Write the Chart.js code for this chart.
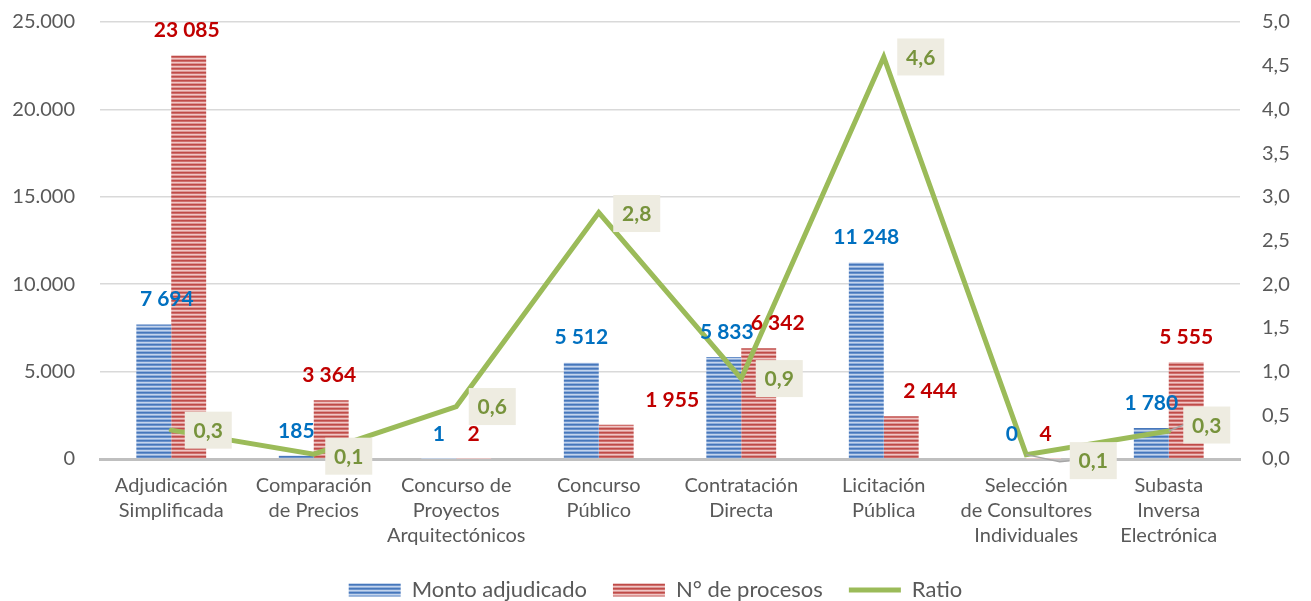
<!DOCTYPE html>
<html>
<head>
<meta charset="utf-8">
<script src="https://cdn.jsdelivr.net/npm/chart.js@4.4.0/dist/chart.umd.min.js"></script>
<style>
  html, body { margin: 0; padding: 0; background: #fff; }
</style>
</head>
<body>
<canvas id="chart" width="1311" height="601"></canvas>
<script>
const categories = [
  ['Adjudicación', 'Simplificada'],
  ['Comparación', 'de Precios'],
  ['Concurso de', 'Proyectos', 'Arquitectónicos'],
  ['Concurso', 'Público'],
  ['Contratación', 'Directa'],
  ['Licitación', 'Pública'],
  ['Selección', 'de Consultores', 'Individuales'],
  ['Subasta', 'Inversa', 'Electrónica'],
];
const montoAdjudicado = [7694, 185, 1, 5512, 5833, 11248, 0, 1780];
const numProcesos = [23085, 3364, 2, 1955, 6342, 2444, 4, 5555];
const ratio = [0.33, 0.055, 0.6, 2.82, 0.92, 4.6, 0.05, 0.32];

// label nudges (px), the reference has some labels dragged off their bars
const blueShiftX = [13, 0, 0, 0, 3, 0, 3, 0];
const redShiftX = [-2, -2, 0, 56, 19, 29, 2, 0];
const ratioShiftX = [37, 35, 36, 38, 38, 37, 67, 38];
const ratioShiftY = [0, 2, 0, 1, 0, 0, 6, -6];

const FONT = 'Lato';
const GREY = '#595959';

function stripes(rows) {
  const c = document.createElement('canvas');
  c.width = 4;
  c.height = rows.length;
  const g = c.getContext('2d');
  rows.forEach((col, i) => {
    g.fillStyle = col;
    g.fillRect(0, i, 4, 1);
  });
  return g.createPattern(c, 'repeat');
}

const bluePattern = stripes(['#4677bb', '#6a92cb', '#c3d4ec', '#92b0dc']);
const redPattern = stripes(['#bf4b48', '#cf6f6c', '#f0c6c5', '#dc9795']);

const fmtDot = (v) => String(v).replace(/\B(?=(\d{3})+(?!\d))/g, '.');
const fmtSpace = (v) => String(v).replace(/\B(?=(\d{3})+(?!\d))/g, ' ');
const fmtComma = (v) => v.toFixed(1).replace('.', ',');

const valueLabels = {
  id: 'valueLabels',
  afterDatasetsDraw(chart) {
    const ctx = chart.ctx;
    ctx.save();
    ctx.textAlign = 'center';
    ctx.textBaseline = 'middle';
    ctx.font = 'bold 21px ' + FONT;
    [0, 1].forEach((di) => {
      const meta = chart.getDatasetMeta(di);
      const vals = chart.data.datasets[di].data;
      const shift = di === 0 ? blueShiftX : redShiftX;
      ctx.fillStyle = di === 0 ? '#0070C0' : '#C00000';
      meta.data.forEach((bar, i) => {
        ctx.fillText(fmtSpace(vals[i]), bar.x + shift[i], bar.y - 25);
      });
    });

    const line = chart.getDatasetMeta(2);
    const w = 47, h = 37;
    line.data.forEach((pt, i) => {
      const bx = pt.x + ratioShiftX[i];
      const by = pt.y + ratioShiftY[i];
      if (Math.abs(ratioShiftY[i]) > 3) {
        ctx.strokeStyle = '#a6a6a6';
        ctx.lineWidth = 1.5;
        ctx.beginPath();
        ctx.moveTo(pt.x, pt.y);
        if (ratioShiftX[i] > 50) ctx.lineTo(bx - w / 2 - 10, by + 1);
        ctx.lineTo(bx - w / 2, by);
        ctx.stroke();
      }
      ctx.fillStyle = '#EEECE1';
      ctx.fillRect(bx - w / 2, by - h / 2, w, h);
      ctx.fillStyle = '#77933C';
      ctx.fillText(fmtComma(ratio[i]), bx, by + 1);
    });
    ctx.restore();
  },
};

new Chart(document.getElementById('chart'), {
  type: 'bar',
  data: {
    labels: categories,
    datasets: [
      {
        label: 'Monto adjudicado',
        data: montoAdjudicado,
        backgroundColor: bluePattern,
        borderWidth: 0,
        pointStyle: 'rect',
        yAxisID: 'y',
        order: 1,
      },
      {
        label: 'N° de procesos',
        data: numProcesos,
        backgroundColor: redPattern,
        borderWidth: 0,
        pointStyle: 'rect',
        yAxisID: 'y',
        order: 2,
      },
      {
        type: 'line',
        label: 'Ratio',
        data: ratio,
        borderColor: '#9BBB59',
        backgroundColor: '#9BBB59',
        borderWidth: 5,
        borderCapStyle: 'round',
        pointRadius: 0,
        pointStyle: 'line',
        tension: 0,
        yAxisID: 'y1',
        order: 0,
      },
    ],
  },
  options: {
    responsive: false,
    animation: false,
    categoryPercentage: 0.49,
    barPercentage: 1,
    layout: { padding: { top: 22, left: 0, right: 0, bottom: -10 } },
    plugins: {
      tooltip: { enabled: false },
      legend: {
        position: 'bottom',
        labels: {
          usePointStyle: true,
          pointStyleWidth: 52,
          boxHeight: 13,
          padding: 26,
          color: GREY,
          font: { family: FONT, size: 22 },
          sort: (a, b) => a.datasetIndex - b.datasetIndex,
        },
      },
    },
    scales: {
      x: {
        grid: { display: false },
        border: { display: true, color: '#bfbfbf', width: 3 },
        ticks: {
          color: GREY,
          font: { family: FONT, size: 20, lineHeight: 1.25 },
          padding: 6,
          maxRotation: 0,
          autoSkip: false,
        },
        afterFit(s) { s.height = 94; },
      },
      y: {
        position: 'left',
        min: 0,
        max: 25000,
        ticks: {
          stepSize: 5000,
          color: GREY,
          font: { family: FONT, size: 20 },
          padding: 0,
          callback: (v) => fmtDot(v),
        },
        grid: {
          drawTicks: true,
          tickLength: 25,
          tickColor: 'rgba(0,0,0,0)',
          lineWidth: 1.5,
          color: (c) => (c.tick && c.tick.value === 0 ? 'rgba(0,0,0,0)' : '#d9d9d9'),
        },
        border: { display: false },
        afterFit(s) { s.width = 100; },
      },
      y1: {
        position: 'right',
        min: 0,
        max: 5,
        ticks: {
          stepSize: 0.5,
          color: GREY,
          font: { family: FONT, size: 20 },
          padding: 0,
          callback: (v) => fmtComma(v),
        },
        grid: {
          drawOnChartArea: false,
          drawTicks: true,
          tickLength: 22,
          tickColor: 'rgba(0,0,0,0)',
          color: 'rgba(0,0,0,0)',
        },
        border: { display: false },
        afterFit(s) { s.width = 71; },
      },
    },
  },
  plugins: [valueLabels],
});
</script>
</body>
</html>
